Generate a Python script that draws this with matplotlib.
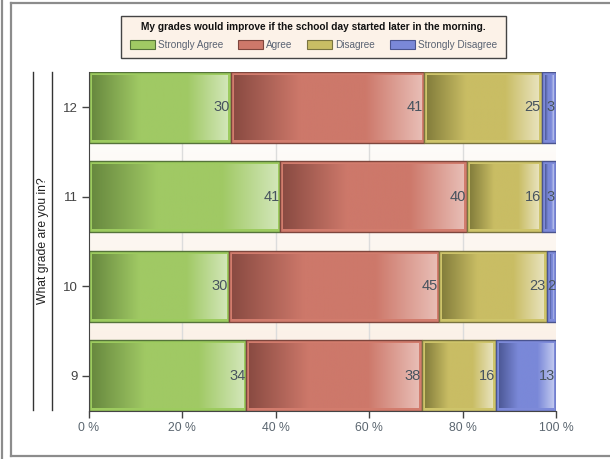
import matplotlib
matplotlib.use("Agg")
import matplotlib.pyplot as plt
import numpy as np
from matplotlib.colors import LinearSegmentedColormap
from matplotlib.patches import Rectangle, Patch
from matplotlib.lines import Line2D

plt.rcParams['font.family'] = ['Liberation Sans', 'DejaVu Sans']

# Survey data
grades = ['9', '10', '11', '12']
series_names = ['Strongly Agree', 'Agree', 'Disagree', 'Strongly Disagree']
strongly_agree = [34, 30, 41, 30]
agree = [38, 45, 40, 41]
disagree = [16, 23, 16, 25]
strongly_disagree = [13, 2, 3, 3]
x_ticks = [0, 20, 40, 60, 80, 100]
x_tick_labels = ['0 %', '20 %', '40 %', '60 %', '80 %', '100 %']
title = 'My grades would improve if the school day started later in the morning.'
y_title = 'What grade are you in?'

# (shadow, base, highlight, frame, edge)
palettes = [
    ('#68893f', '#a0c964', '#d2e6b8', '#9dcb5f', '#55733a'),
    ('#8a4b42', '#cd786a', '#e8bdb5', '#d27c6d', '#7e463d'),
    ('#847e3c', '#c9bd64', '#e8e2bc', '#cec46a', '#7a7440'),
    ('#4d5997', '#7a88d8', '#c0c8ef', '#7d8ad9', '#4a5490'),
]

W, H = 610, 459
fig = plt.figure(figsize=(W / 100, H / 100), dpi=100)
ax_l, ax_r, ax_t, ax_b = 89, 556, 72, 411
ax = fig.add_axes([ax_l / W, 1 - ax_b / H, (ax_r - ax_l) / W, (ax_b - ax_t) / H])

ylo, yhi = -0.395, 3.395
ax.set_xlim(0, 100)
ax.set_ylim(ylo, yhi)

# vertical background gradient
bg = LinearSegmentedColormap.from_list('bg', ['#ffffff', '#faeee2'])
ax.imshow(np.linspace(0, 1, 256).reshape(-1, 1), cmap=bg, aspect='auto',
          extent=(0, 100, ylo, yhi), origin='upper', zorder=0)

for xv in x_ticks[1:-1]:
    ax.axvline(xv, color='#dcdcdc', lw=1, zorder=1)

data = np.array([strongly_agree, agree, disagree, strongly_disagree], dtype=float)
totals = data.sum(axis=0)
shares = data / totals * 100
ypos = np.arange(len(grades))
bar_h = 0.79

px_x = 100 / (ax_r - ax_l)
px_y = (yhi - ylo) / (ax_b - ax_t)
inset = 3.0

left = np.zeros(len(grades))
for k, name in enumerate(series_names):
    shadow, base, light, frame, edge = palettes[k]
    cmap = LinearSegmentedColormap.from_list(
        name, [(0, shadow), (0.35, base), (0.7, base), (1, light)])
    bars = ax.barh(ypos, shares[k], left=left, height=bar_h, color=frame,
                   edgecolor=edge, linewidth=1.0, zorder=2)
    for i, b in enumerate(bars):
        x0, y0, w, h = b.get_x(), b.get_y(), b.get_width(), b.get_height()
        ix0 = x0 + inset * px_x
        ix1 = x0 + w - inset * px_x
        iy0 = y0 + inset * px_y
        iy1 = y0 + h - inset * px_y
        if ix1 > ix0:
            ax.imshow(np.linspace(0, 1, 256).reshape(1, -1), cmap=cmap,
                      aspect='auto', extent=(ix0, ix1, iy0, iy1),
                      interpolation='bilinear', zorder=3)
        ax.text(x0 + w - 0.2, ypos[i], f'{int(data[k, i])}', ha='right',
                va='center', fontsize=10.5, color='#47535e', zorder=5)
    left = left + shares[k]

ax.set_ylim(ylo, yhi)
ax.set_xlim(0, 100)
ax.set_yticks(ypos)
ax.set_yticklabels(grades, fontsize=9.5, color='#444444')
ax.set_xticks(x_ticks)
ax.set_xticklabels(x_tick_labels, fontsize=8.8, color='#5b6670')
ax.tick_params(axis='both', length=5, width=1, color='#444444', pad=3)
for s in ['top', 'right']:
    ax.spines[s].set_visible(False)
ax.spines['left'].set_color('#444444')
ax.spines['bottom'].set_color('#444444')

# y-axis title with bracketing rules
fig.text(43 / W, 1 - 241 / H, y_title, rotation=90, ha='center', va='center',
         fontsize=8.7, color='#222222')
for xx in (33, 52):
    fig.add_artist(Line2D([xx / W, xx / W], [1 - 72 / H, 1 - 410 / H],
                          color='#333333', lw=1))

# outer frames
fig.add_artist(Line2D([2 / W, 2 / W], [0, 1], color='#8c8c8c', lw=1.6))
fig.add_artist(Line2D([11 / W, 11 / W], [1 - 456 / H, 1 - 3 / H], color='#8c8c8c', lw=1.6))
fig.add_artist(Line2D([11 / W, 1], [1 - 3 / H, 1 - 3 / H], color='#8c8c8c', lw=1.6))
fig.add_artist(Line2D([11 / W, 1], [1 - 456 / H, 1 - 456 / H], color='#8c8c8c', lw=1.6))

# title / legend box
bx0, bx1, by0, by1 = 121, 506, 16, 58
fig.add_artist(Rectangle((bx0 / W, 1 - by1 / H), (bx1 - bx0) / W, (by1 - by0) / H,
                         transform=fig.transFigure, facecolor='#fcf2e8',
                         edgecolor='#444444', lw=1))
fig.text((bx0 + bx1) / 2 / W, 1 - 27 / H, title, ha='center', va='center',
         fontsize=7.3, fontweight='bold', color='#111111')
handles = [Patch(facecolor=p[1], edgecolor=p[4], lw=0.8) for p in palettes]
fig.legend(handles, series_names, loc='center', bbox_to_anchor=((bx0 + bx1) / 2 / W, 1 - 45 / H),
           ncol=4, frameon=False, fontsize=7.2, handlelength=2.5, handleheight=0.9,
           handletextpad=0.3, columnspacing=1.5, labelcolor='#5a6373', borderpad=0)

fig.savefig('out.png', dpi=100)
